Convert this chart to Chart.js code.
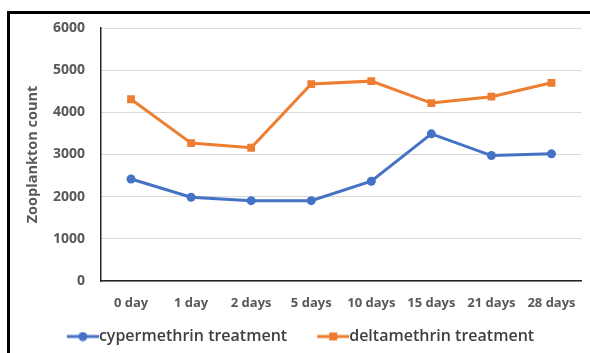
<!DOCTYPE html>
<html lang="en">
<head>
    <meta charset="UTF-8">
    <title>Zooplankton count</title>
    <script src="https://cdn.jsdelivr.net/npm/chart.js"></script>
    <style>
        body { margin: 0; background: #fff; }
        #wrap { position: relative; width: 590px; height: 353px; }
        #frame { position: absolute; left: 7px; top: 11px; right: 0; bottom: 0;
                 border-top: 3px solid #000; border-left: 3px solid #000; pointer-events: none; }
    </style>
</head>
<body>
    <div id="wrap">
        <canvas id="lineChart" width="590" height="353"></canvas>
        <div id="frame"></div>
    </div>
    <script>
        const days = ['0 day', '1 day', '2 days', '5 days', '10 days', '15 days', '21 days', '28 days'];
        const cypermethrin = [2420, 1985, 1905, 1905, 2365, 3490, 2975, 3015];
        const deltamethrin = [4310, 3270, 3160, 4670, 4740, 4220, 4370, 4700];
        const yTicks = [0, 1000, 2000, 3000, 4000, 5000, 6000];

        const blue = '#4472C4';
        const orange = '#ED7D31';

        // legend icon: line with marker, sitting at the right end of the image
        // so the text follows close behind it
        function legendIcon(color, square) {
            var c = document.createElement('canvas');
            c.width = 60; c.height = 10;
            var g = c.getContext('2d');
            g.strokeStyle = color; g.lineWidth = 3;
            g.beginPath(); g.moveTo(28, 5); g.lineTo(60, 5); g.stroke();
            g.fillStyle = color;
            if (square) {
                g.fillRect(40, 1, 8, 8);
            } else {
                g.beginPath(); g.arc(44, 5, 4.5, 0, Math.PI * 2); g.fill();
            }
            return c;
        }

        // nudge the legend a little left of centre, like the original
        const legendShift = {
            id: 'legendShift',
            afterLayout: function(chart) {
                chart.legend.left -= 12;
            }
        };

        var ctx = document.getElementById('lineChart').getContext('2d');
        new Chart(ctx, {
            type: 'line',
            data: {
                labels: days,
                datasets: [{
                    label: 'cypermethrin treatment',
                    data: cypermethrin,
                    borderColor: blue,
                    backgroundColor: blue,
                    borderWidth: 3,
                    pointStyle: 'circle',
                    pointRadius: 4.5,
                    pointBorderWidth: 0,
                    tension: 0
                }, {
                    label: 'deltamethrin treatment',
                    data: deltamethrin,
                    borderColor: orange,
                    backgroundColor: orange,
                    borderWidth: 3,
                    pointStyle: 'rect',
                    pointRadius: 5.5,
                    pointBorderWidth: 0,
                    tension: 0
                }]
            },
            plugins: [legendShift],
            options: {
                responsive: false,
                animation: false,
                layout: { padding: { left: 10, right: 7, top: 28, bottom: -1.5 } },
                plugins: {
                    tooltip: { enabled: false },
                    legend: {
                        position: 'bottom',
                        labels: {
                            usePointStyle: true,
                            pointStyleWidth: 44,
                            padding: 10,
                            color: '#404040',
                            font: { family: 'Open Sans', size: 16, weight: '600' },
                            generateLabels: function(chart) {
                                return chart.data.datasets.map(function(ds, i) {
                                    return {
                                        text: ds.label,
                                        pointStyle: legendIcon(ds.borderColor, i === 1),
                                        fillStyle: ds.borderColor,
                                        strokeStyle: ds.borderColor,
                                        lineWidth: 0,
                                        fontColor: '#404040',
                                        datasetIndex: i
                                    };
                                });
                            }
                        }
                    }
                },
                scales: {
                    x: {
                        offset: true,
                        afterFit: function(axis) { axis.height = 37.5; },
                        grid: { display: false, drawTicks: false },
                        border: { display: true, color: '#262626', width: 1.5 },
                        ticks: {
                            padding: 14,
                            color: '#595959',
                            maxRotation: 0,
                            autoSkip: false,
                            font: { family: 'Open Sans', size: 13, weight: 'bold' }
                        }
                    },
                    y: {
                        min: 0,
                        max: 6000,
                        afterBuildTicks: function(axis) {
                            axis.ticks = yTicks.map(function(v) { return { value: v }; });
                        },
                        afterFit: function(axis) { axis.width = 91; },
                        grid: { color: '#d9d9d9', drawTicks: false },
                        border: { display: true, color: '#262626', width: 1.5 },
                        ticks: {
                            padding: 16,
                            color: '#595959',
                            callback: function(v) { return String(v); },
                            font: { family: 'Open Sans', size: 14, weight: 'bold' }
                        },
                        title: {
                            display: true,
                            text: 'Zooplankton count',
                            color: '#595959',
                            padding: { top: 14, bottom: 0 },
                            font: { family: 'Open Sans', size: 14.5, weight: 'bold' }
                        }
                    }
                }
            }
        });
    </script>
</body>
</html>
